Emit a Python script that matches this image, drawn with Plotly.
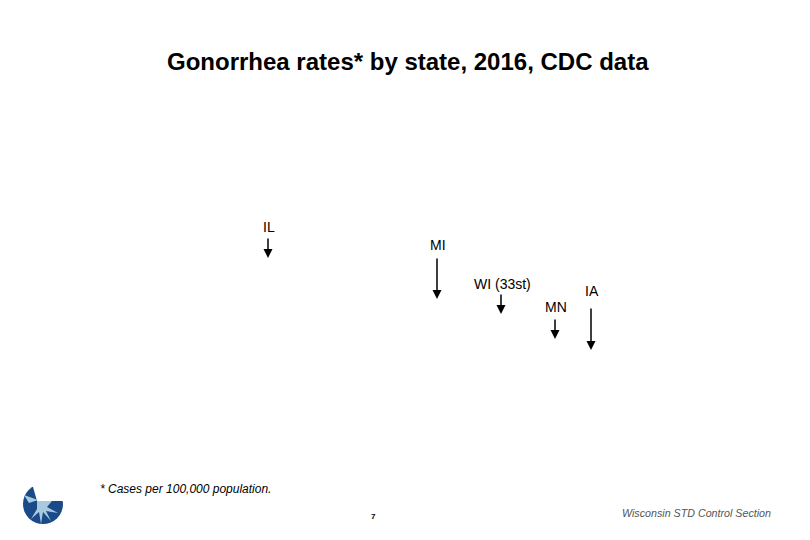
import plotly.graph_objects as go

# state markers (label, x position, arrow tip y, arrow length, label gap) in slide pixels
states = ["IL", "MI", "WI (33st)", "MN", "IA"]
arrow_x = [268, 437, 501, 555, 591]
arrow_tip = [258, 299, 314, 339, 350]
arrow_len = [21, 42, 21, 21, 43]
label_gap = [10, 12, 9, 11, 16]

title = "Gonorrhea rates* by state, 2016, CDC data"
footnote = "* Cases per 100,000 population."
footer = "Wisconsin STD Control Section"
page_no = "7"

fig = go.Figure()

annotations = []
for s, x, tip, ln, gap in zip(states, arrow_x, arrow_tip, arrow_len, label_gap):
    top = tip - ln
    annotations.append(dict(
        x=x, y=tip, ax=x, ay=top, xref="x", yref="y", axref="x", ayref="y",
        text="", showarrow=True, arrowhead=2, arrowsize=1.2, arrowwidth=1.5,
        arrowcolor="black", standoff=0, startstandoff=0,
    ))
    annotations.append(dict(
        x=x + 1, y=top - gap, xref="x", yref="y", text=s, showarrow=False,
        yanchor="middle", font=dict(family="Liberation Sans", size=14, color="black"),
    ))

annotations += [
    dict(x=408, y=61, xref="x", yref="y", text="<b>" + title + "</b>", showarrow=False,
         font=dict(family="Liberation Sans", size=24, color="black"),
         xanchor="center", yanchor="middle"),
    dict(x=98, y=489, xref="x", yref="y", text="<i>" + footnote + "</i>",
         showarrow=False, xanchor="left", yanchor="middle",
         font=dict(family="Liberation Sans", size=12, color="black")),
    dict(x=773, y=513, xref="x", yref="y", text="<i>" + footer + "</i>",
         showarrow=False, xanchor="right", yanchor="middle",
         font=dict(family="Liberation Sans", size=10.7, color="#555555")),
    dict(x=373, y=516, xref="x", yref="y", text="<b>" + page_no + "</b>",
         showarrow=False, xanchor="center", yanchor="middle",
         font=dict(family="Liberation Sans", size=8, color="black")),
]

# little logo bottom-left
shapes = [
    dict(type="circle", xref="x", yref="y", x0=23, y0=484, x1=63, y1=524,
         fillcolor="#1b4a88", line=dict(width=0)),
    dict(type="path", xref="x", yref="y",
         path="M 31 480 L 70 480 L 70 501 L 37 501 Z",
         fillcolor="white", line=dict(width=0)),
    dict(type="path", xref="x", yref="y",
         path="M 24 495 L 38 500 L 29 503 Z",
         fillcolor="#a9c9de", line=dict(width=0)),
    dict(type="path", xref="x", yref="y",
         path="M 37 501 L 52 501 L 47 507 L 58 513 L 46 511 L 51 521 L 43 512 "
              "L 41 524 L 39 512 L 31 519 L 37 509 Z",
         fillcolor="#a9c9de", line=dict(width=0)),
]

fig.update_layout(
    width=810, height=540,
    margin=dict(l=0, r=0, t=0, b=0),
    paper_bgcolor="white", plot_bgcolor="white",
    showlegend=False,
    annotations=annotations,
    shapes=shapes,
)
# page has an 8px body margin, so shift the ranges to keep slide pixels aligned
fig.update_xaxes(range=[8, 818], visible=False, fixedrange=True)
fig.update_yaxes(range=[548, 8], visible=False, fixedrange=True)

fig.write_html("out.html")
